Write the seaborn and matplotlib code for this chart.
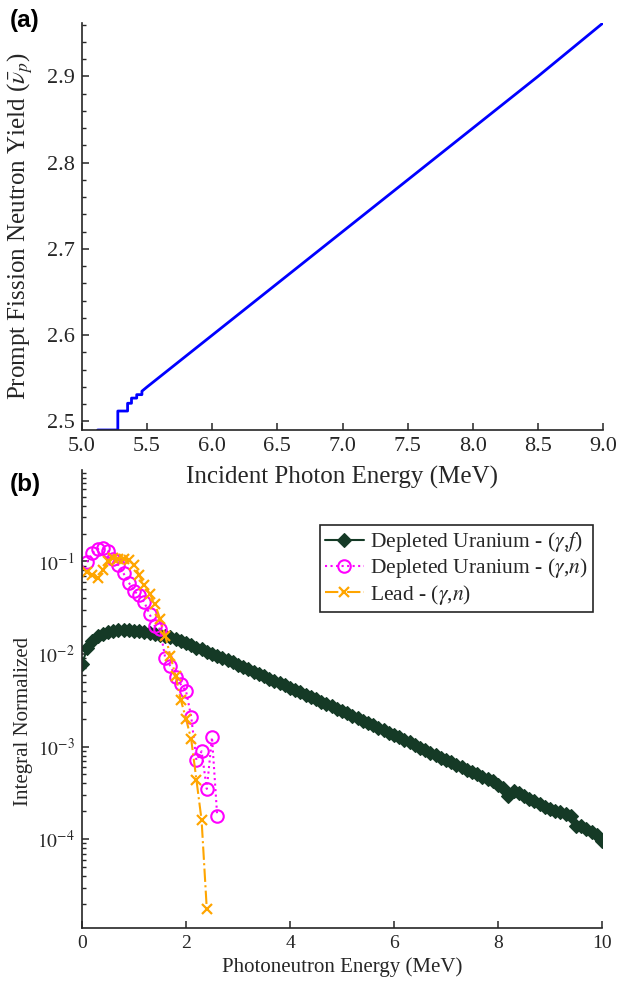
import matplotlib
matplotlib.use("Agg")
import matplotlib.pyplot as plt
import numpy as np
import seaborn as sns
from matplotlib.ticker import FixedLocator, MultipleLocator, LogLocator, NullFormatter, FuncFormatter

# ---------------------------------------------------------------- panel (a)
# Prompt fission neutron yield versus incident photon energy
photon_energy_mev = [5.12, 5.275, 5.275, 5.35, 5.35, 5.38, 5.38, 5.42, 5.42, 5.46, 5.46,
                     5.50, 6.00, 6.50, 7.00, 7.50, 8.00, 8.50, 9.00]
nu_bar_prompt = [2.490, 2.490, 2.512, 2.512, 2.521, 2.521, 2.527, 2.527, 2.531, 2.531, 2.535,
                 2.540, 2.600, 2.660, 2.720, 2.780, 2.840, 2.900, 2.962]
nu_ticks = [2.5, 2.6, 2.7, 2.8, 2.9]
photon_ticks = [5.0, 5.5, 6.0, 6.5, 7.0, 7.5, 8.0, 8.5, 9.0]

# ---------------------------------------------------------------- panel (b)
# Depleted uranium (gamma,f) neutron spectrum, 0.1 MeV bins
fission_energy_mev = [
    0.0, 0.1, 0.2, 0.3, 0.4, 0.5, 0.6, 0.7, 0.8, 0.9,
    1.0, 1.1, 1.2, 1.3, 1.4, 1.5, 1.6, 1.7, 1.8, 1.9,
    2.0, 2.1, 2.2, 2.3, 2.4, 2.5, 2.6, 2.7, 2.8, 2.9,
    3.0, 3.1, 3.2, 3.3, 3.4, 3.5, 3.6, 3.7, 3.8, 3.9,
    4.0, 4.1, 4.2, 4.3, 4.4, 4.5, 4.6, 4.7, 4.8, 4.9,
    5.0, 5.1, 5.2, 5.3, 5.4, 5.5, 5.6, 5.7, 5.8, 5.9,
    6.0, 6.1, 6.2, 6.3, 6.4, 6.5, 6.6, 6.7, 6.8, 6.9,
    7.0, 7.1, 7.2, 7.3, 7.4, 7.5, 7.6, 7.7, 7.8, 7.9,
    8.0, 8.1, 8.2, 8.3, 8.4, 8.5, 8.6, 8.7, 8.8, 8.9,
    9.0, 9.1, 9.2, 9.3, 9.4, 9.5, 9.6, 9.7, 9.8, 9.9,
    10.0]
du_fission = [
    7.76e-3, 1.15e-2, 1.38e-2, 1.55e-2, 1.66e-2, 1.74e-2, 1.79e-2, 1.81e-2, 1.82e-2, 1.81e-2,
    1.79e-2, 1.76e-2, 1.73e-2, 1.69e-2, 1.65e-2, 1.61e-2, 1.57e-2, 1.52e-2, 1.46e-2, 1.38e-2,
    1.30e-2, 1.245e-2, 1.175e-2, 1.12e-2, 1.06e-2, 1.01e-2, 9.55e-3, 9.02e-3, 8.51e-3, 8.13e-3,
    7.67e-3, 7.24e-3, 6.84e-3, 6.46e-3, 6.10e-3, 5.75e-3, 5.43e-3, 5.13e-3, 4.84e-3, 4.57e-3,
    4.32e-3, 4.07e-3, 3.85e-3, 3.63e-3, 3.43e-3, 3.24e-3, 3.05e-3, 2.88e-3, 2.72e-3, 2.57e-3,
    2.43e-3, 2.29e-3, 2.16e-3, 2.02e-3, 1.905e-3, 1.80e-3, 1.70e-3, 1.60e-3, 1.51e-3, 1.41e-3,
    1.33e-3, 1.26e-3, 1.175e-3, 1.11e-3, 1.047e-3, 9.77e-4, 9.12e-4, 8.61e-4, 8.04e-4, 7.59e-4,
    7.08e-4, 6.76e-4, 6.31e-4, 5.96e-4, 5.62e-4, 5.31e-4, 5.01e-4, 4.68e-4, 4.47e-4, 4.27e-4,
    3.89e-4, 3.55e-4, 2.95e-4, 3.31e-4, 3.16e-4, 2.95e-4, 2.75e-4, 2.57e-4, 2.40e-4, 2.24e-4,
    2.14e-4, 2.04e-4, 1.95e-4, 1.86e-4, 1.78e-4, 1.38e-4, 1.38e-4, 1.29e-4, 1.20e-4, 1.12e-4,
    9.6e-5]

# Depleted uranium (gamma,n) spectrum
du_gn_energy_mev = [0.1, 0.2, 0.3, 0.4, 0.5, 0.6, 0.7, 0.8, 0.9, 1.0,
                    1.1, 1.2, 1.3, 1.4, 1.5, 1.6, 1.7, 1.8, 1.9, 2.0,
                    2.1, 2.2, 2.3, 2.4, 2.5, 2.6]
du_gn = [0.098, 0.123, 0.136, 0.138, 0.129, 0.107, 0.091, 0.074, 0.059, 0.048,
         0.043, 0.036, 0.027, 0.020, 0.0186, 0.0091, 0.0074, 0.0056, 0.0047, 0.0040,
         0.0021, 7.1e-4, 8.9e-4, 3.5e-4, 1.26e-3, 1.78e-4]

# Lead (gamma,n) spectrum
lead_gn_energy_mev = [0.1, 0.2, 0.3, 0.4, 0.5, 0.6, 0.7, 0.8, 0.9, 1.0,
                      1.1, 1.2, 1.3, 1.4, 1.5, 1.6, 1.7, 1.8, 1.9, 2.0,
                      2.1, 2.2, 2.3, 2.4]
lead_gn = [0.077, 0.071, 0.066, 0.080, 0.100, 0.108, 0.107, 0.107, 0.104, 0.091,
           0.071, 0.055, 0.045, 0.035, 0.024, 0.0158, 0.0095, 0.0058, 0.0032, 0.0020,
           0.0012, 4.4e-4, 1.6e-4, 1.75e-5]

series_labels = [r"Depleted Uranium - ($\gamma$,$f$)",
                 r"Depleted Uranium - ($\gamma$,$n$)",
                 r"Lead - ($\gamma$,$n$)"]
spectrum_ticks = [0, 2, 4, 6, 8, 10]
decade_ticks = [1e-4, 1e-3, 1e-2, 1e-1]

# ---------------------------------------------------------------- styling
sns.set_theme(style="ticks")
plt.rcParams["font.family"] = ["Liberation Serif", "DejaVu Serif"]
plt.rcParams["mathtext.fontset"] = "stix"
ink = "#262626"
plt.rcParams.update({
    "axes.edgecolor": ink,
    "axes.labelcolor": ink,
    "xtick.color": ink,
    "ytick.color": ink,
    "text.color": ink,
    "axes.linewidth": 1.2,
})

fig = plt.figure(figsize=(6.21, 9.86), dpi=100)
W, H = 621.0, 986.0
ax_b = fig.add_axes([82 / W, 1 - 928 / H, 520 / W, 458 / H])
ax_a = fig.add_axes([82 / W, 1 - 430 / H, 521 / W, 407 / H])
ax_b.set_facecolor("none")
ax_a.set_facecolor("none")


def style_axes(ax, tick_fs):
    sns.despine(ax=ax)
    ax.tick_params(axis="both", which="major", direction="in", length=5, width=1.1,
                   labelsize=tick_fs, pad=5)
    ax.tick_params(axis="both", which="minor", direction="in", length=3, width=1.0)


# ---- (a)
sns.lineplot(x=photon_energy_mev, y=nu_bar_prompt, ax=ax_a, color="#0000ff",
             linewidth=2.0, estimator=None, sort=False)
ax_a.set_xlim(5.0, 9.0)
ax_a.set_ylim(min(nu_bar_prompt), max(nu_bar_prompt))
ax_a.xaxis.set_major_locator(FixedLocator(photon_ticks))
ax_a.xaxis.set_major_formatter(FuncFormatter(lambda v, p: f"{v:.1f}"))
ax_a.yaxis.set_major_locator(FixedLocator(nu_ticks))
ax_a.yaxis.set_major_formatter(FuncFormatter(lambda v, p: f"{v:.1f}"))
ax_a.yaxis.set_minor_locator(MultipleLocator(0.02))
style_axes(ax_a, 16)
ax_a.set_xlabel("Incident Photon Energy (MeV)", fontsize=18, labelpad=7)
ax_a.set_ylabel(r"Prompt Fission Neutron Yield ($\bar{\nu}_p$)", fontsize=18, labelpad=9)

# ---- (b)
sns.lineplot(x=fission_energy_mev, y=du_fission, ax=ax_b, color="#153a26",
             linewidth=1.5, marker="D", markersize=7, markeredgecolor="#153a26",
             markerfacecolor="#153a26", markeredgewidth=0.8,
             estimator=None, sort=False, label=series_labels[0])
sns.lineplot(x=du_gn_energy_mev, y=du_gn, ax=ax_b, color="#ff00ff",
             linewidth=1.5, linestyle=":", marker="o", markersize=9,
             markerfacecolor="none", markeredgecolor="#ff00ff", markeredgewidth=1.5,
             estimator=None, sort=False, label=series_labels[1])
sns.lineplot(x=lead_gn_energy_mev, y=lead_gn, ax=ax_b, color="#ffa500",
             linewidth=1.5, linestyle="-.", marker="x", markersize=7,
             markeredgecolor="#ffa500", markeredgewidth=1.6,
             estimator=None, sort=False, label=series_labels[2])
ax_b.set_yscale("log")
ax_b.set_xlim(0, 10)
ax_b.set_ylim(1.1e-5, 0.97)
ax_b.xaxis.set_major_locator(FixedLocator(spectrum_ticks))
ax_b.yaxis.set_major_locator(FixedLocator(decade_ticks))
ax_b.yaxis.set_major_formatter(FuncFormatter(lambda v, p: rf"$10^{{{int(round(np.log10(v)))}}}$"))
ax_b.yaxis.set_minor_locator(LogLocator(base=10, subs=np.arange(2, 10), numticks=20))
ax_b.yaxis.set_minor_formatter(NullFormatter())
style_axes(ax_b, 14)
ax_b.set_xlabel("Photoneutron Energy (MeV)", fontsize=15)
ax_b.set_ylabel("Integral Normalized", fontsize=15)
ax_b.yaxis.set_label_coords(-0.095, 0.45)

leg = ax_b.legend(loc="upper right", bbox_to_anchor=(0.983, 0.88), borderaxespad=0,
                  fontsize=15.5, frameon=True, fancybox=False, framealpha=1,
                  edgecolor=ink, handlelength=1.8, handletextpad=0.3,
                  labelspacing=0.1, borderpad=0.25)
leg.get_frame().set_linewidth(1.2)

# panel letters
fig.text(10 / W, 1 - 21 / H, "(a)", fontsize=17.5, fontweight="bold",
         family=["Liberation Sans", "DejaVu Sans"], va="center", ha="left", color="black")
fig.text(10 / W, 1 - 485 / H, "(b)", fontsize=17.5, fontweight="bold",
         family=["Liberation Sans", "DejaVu Sans"], va="center", ha="left", color="black")

fig.savefig("out.png", dpi=100)
